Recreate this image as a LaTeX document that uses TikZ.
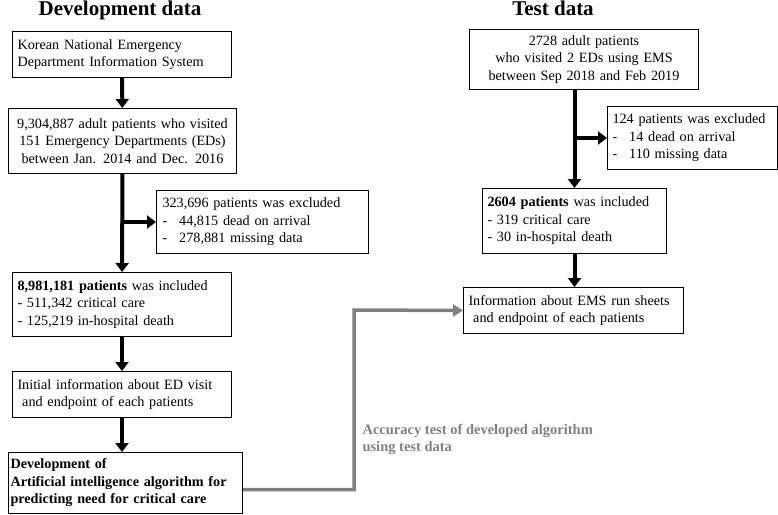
\documentclass[tikz,border=0pt]{standalone}
\usepackage{fontspec}
\setmainfont{Liberation Serif}
\usetikzlibrary{arrows.meta,positioning,calc}

\begin{document}
\begin{tikzpicture}[x=1pt,y=-1pt]
	\tikzset{font=\fontsize{14.2}{17.5}\selectfont}
	\tikzset{box/.style = {draw,line width=1pt,anchor=north west,align=left,inner ysep=0pt}}
	\tikzset{flow/.style = {line width=4pt,-{Triangle[length=9pt,width=13pt]}}}
	\tikzset{title/.style = {anchor=base,font=\fontsize{21}{24}\selectfont\bfseries}}
	\definecolor{testgray}{RGB}{128,128,128}

	\useasboundingbox (0,0) rectangle (778,514);

	% development data
	\node[title] (dt) at (120,15) {Development data};
	\node[box,text width=209pt,inner xsep=5pt,minimum height=46pt] (1) at (12,31)
		{Korean National Emergency\\Department Information System};
	\node[box,align=center,text width=224pt,inner xsep=2pt,minimum height=65pt] (2) at (8,108)
		{9,304,887 adult patients who visited\\151 Emergency Departments (EDs)\\between Jan. 2014 and Dec. 2016};
	\node[box,text width=200pt,inner xsep=6pt,minimum height=63pt] (3) at (156,190)
		{323,696 patients was excluded\\-\hspace{12pt}44,815 dead on arrival\\-\hspace{12pt}278,881 missing data};
	\node[box,text width=209pt,inner xsep=5pt,minimum height=64pt] (4) at (12,272)
		{\textbf{8,981,181 patients} was included\\- 511,342 critical care\\- 125,219 in-hospital death};
	\node[box,text width=209pt,inner xsep=5pt,minimum height=46pt] (5) at (12,371)
		{Initial information about ED visit\\\ and endpoint of each patients};
	\node[box,font=\fontsize{14.2}{17.5}\selectfont\bfseries,text width=230pt,inner xsep=2pt,minimum height=61pt] (6) at (8,452)
		{Development of\\Artificial intelligence algorithm for\\predicting need for critical care};

	% test data
	\node[title] (tt) at (553,15) {Test data};
	\node[box,align=center,text width=225pt,inner xsep=2pt,minimum height=60pt] (7) at (469,29)
		{2728 adult patients\\who visited 2 EDs using EMS\\between Sep 2018 and Feb 2019};
	\node[box,text width=160pt,inner xsep=5pt,minimum height=63pt] (8) at (607,106)
		{124 patients was excluded\\-\hspace{12pt}14 dead on arrival\\-\hspace{12pt}110 missing data};
	\node[box,text width=174pt,inner xsep=5pt,minimum height=65pt] (9) at (482,188)
		{\textbf{2604 patients} was included\\- 319 critical care\\- 30 in-hospital death};
	\node[box,text width=210pt,inner xsep=5pt,minimum height=46pt] (10) at (463,287)
		{Information about EMS run sheets\\\ and endpoint of each patients};

	\node[anchor=west,align=left,text=testgray,font=\fontsize{14.5}{17}\selectfont\bfseries] (acc) at (359,439)
		{Accuracy test of developed algorithm\\using test data};

	\draw[flow] (1) -- (2);
	\draw[flow] (2) -- (4);
	\draw[flow] (2.south |- 3.west) -- (3);
	\draw[flow] (4) -- (5);
	\draw[flow] (5.south) -- (5.south |- 6.north);

	\draw[flow] (9.north |- 7.south) -- (9);
	\draw[flow] (9.north |- 8.west) -- (8);
	\draw[flow] (9.south) -- (9.south |- 10.north);

	\coordinate (turn) at (354,310);
	\draw[line width=3.5pt,testgray,-{Triangle[length=10pt,width=12pt]}]
		([yshift=-6.5pt]6.east) -| (turn) -- (10.west);
\end{tikzpicture}
\end{document}
